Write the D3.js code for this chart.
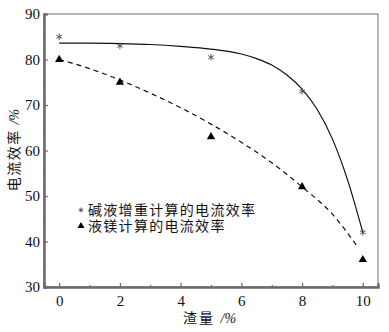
<!DOCTYPE html>
<html><head><meta charset="utf-8">
<script src="https://cdn.jsdelivr.net/npm/d3@7"></script>
<style>body{margin:0;background:#fff}</style>
</head><body>
<svg id="c" width="389" height="332"></svg>
<script>
const slagX = [0, 2, 5, 8, 10];
const alkaliEff = [85, 83, 80.5, 73, 42];
const mgEff = [80, 75, 63, 52, 36];
const fitAlkaliX = [0, 1, 2, 3, 4, 5, 6, 6.5, 7, 7.5, 8, 8.5, 9, 9.5, 10];
const fitAlkaliY = [83.6, 83.6, 83.5, 83.3, 82.9, 82.3, 81.2, 80.2, 78.8, 76.6, 73.5, 69, 62.5, 53.5, 42];
const fitMgX = [0, 1, 2, 3, 4, 5, 6, 7, 8, 9, 9.85];
const fitMgY = [80, 78, 75.5, 72.6, 69.4, 65.8, 61.8, 57.3, 52, 46, 38.6];
const xTicks = [0, 2, 4, 6, 8, 10];
const yTicks = [30, 40, 50, 60, 70, 80, 90];
const legendLabels = ["碱液增重计算的电流效率", "液镁计算的电流效率"];

const svg = d3.select("#c");
const L = 44, R = 378, T = 14, B = 287;
const x = d3.scaleLinear().domain([-0.5, 10.5]).range([L, R]);
const y = d3.scaleLinear().domain([30, 90]).range([B, T]);
const axisCol = "#6a6a6a";
const cjk = "'Liberation Serif', 'Noto Sans CJK SC', serif";

// frame
svg.append("rect").attr("x", L).attr("y", T).attr("width", R - L).attr("height", B - T)
  .attr("fill", "none").attr("stroke", "#888").attr("stroke-width", 1.2);

// axes
const gx = svg.append("g").attr("transform", `translate(0,${B})`)
  .call(d3.axisBottom(x).tickValues(xTicks).tickSize(-4).tickPadding(8).tickFormat(d3.format("d")));
const gxm = svg.append("g").attr("transform", `translate(0,${B})`)
  .call(d3.axisBottom(x).tickValues([1, 3, 5, 7, 9]).tickSize(-2).tickFormat(""));
const gy = svg.append("g").attr("transform", `translate(${L},0)`)
  .call(d3.axisLeft(y).tickValues(yTicks).tickSize(-4).tickPadding(4).tickFormat(d3.format("d")));
const gym = svg.append("g").attr("transform", `translate(${L},0)`)
  .call(d3.axisLeft(y).tickValues([35, 45, 55, 65, 75, 85]).tickSize(-2).tickFormat(""));
[gx, gxm, gy, gym].forEach(g => {
  g.select(".domain").attr("stroke", axisCol).attr("stroke-width", 2);
  g.selectAll(".tick line").attr("stroke", axisCol).attr("stroke-width", 1.2);
  g.selectAll("text").attr("fill", "#111").attr("font-family", "Liberation Serif, serif").attr("font-size", 15);
});

// fit curves
const line = d3.line().x(d => x(d[0])).y(d => y(d[1])).curve(d3.curveMonotoneX);
svg.append("path").datum(d3.zip(fitAlkaliX, fitAlkaliY)).attr("d", line)
  .attr("fill", "none").attr("stroke", "#111").attr("stroke-width", 1.2);
svg.append("path").datum(d3.zip(fitMgX, fitMgY)).attr("d", line)
  .attr("fill", "none").attr("stroke", "#111").attr("stroke-width", 1.2).attr("stroke-dasharray", "5,4");

// markers
function drawStar(g, cx, cy, r) {
  for (let k = 0; k < 3; k++) {
    const a = Math.PI / 2 + k * Math.PI / 3;
    g.append("line").attr("x1", cx - r * Math.cos(a)).attr("y1", cy - r * Math.sin(a))
      .attr("x2", cx + r * Math.cos(a)).attr("y2", cy + r * Math.sin(a))
      .attr("stroke", "#444").attr("stroke-width", 0.9);
  }
}
const gm = svg.append("g");
slagX.forEach((v, i) => drawStar(gm, x(v), y(alkaliEff[i]), 3.3));
svg.append("g").selectAll("path").data(d3.zip(slagX, mgEff)).join("path")
  .attr("transform", d => `translate(${x(d[0])},${y(d[1])})`)
  .attr("d", d3.symbol().type(d3.symbolTriangle).size(30)).attr("fill", "#000");

// legend
const lg = svg.append("g");
drawStar(lg, 81, 210, 2.5);
lg.append("path").attr("transform", "translate(81,226)").attr("d", d3.symbol().type(d3.symbolTriangle).size(22)).attr("fill", "#000");
lg.selectAll("text").data(legendLabels).join("text")
  .attr("x", 88).attr("y", (d, i) => 215 + i * 16).text(d => d)
  .attr("font-family", cjk).attr("font-size", 14).attr("letter-spacing", 1.3).attr("fill", "#111");

// axis titles
const xt = svg.append("text").attr("x", 183).attr("y", 323)
  .attr("font-family", cjk).attr("font-size", 14).attr("fill", "#111");
xt.append("tspan").attr("letter-spacing", 2).text("渣量 ");
xt.append("tspan").attr("font-style", "italic").attr("font-family", "Liberation Serif, serif").text("/%");
const yt = svg.append("text").attr("transform", "translate(19,150) rotate(-90)").attr("text-anchor", "middle")
  .attr("font-family", cjk).attr("font-size", 14).attr("fill", "#111");
yt.append("tspan").attr("letter-spacing", 1.5).text("电流效率 ");
yt.append("tspan").attr("font-style", "italic").attr("font-family", "Liberation Serif, serif").text("/%");
</script>
</body></html>
